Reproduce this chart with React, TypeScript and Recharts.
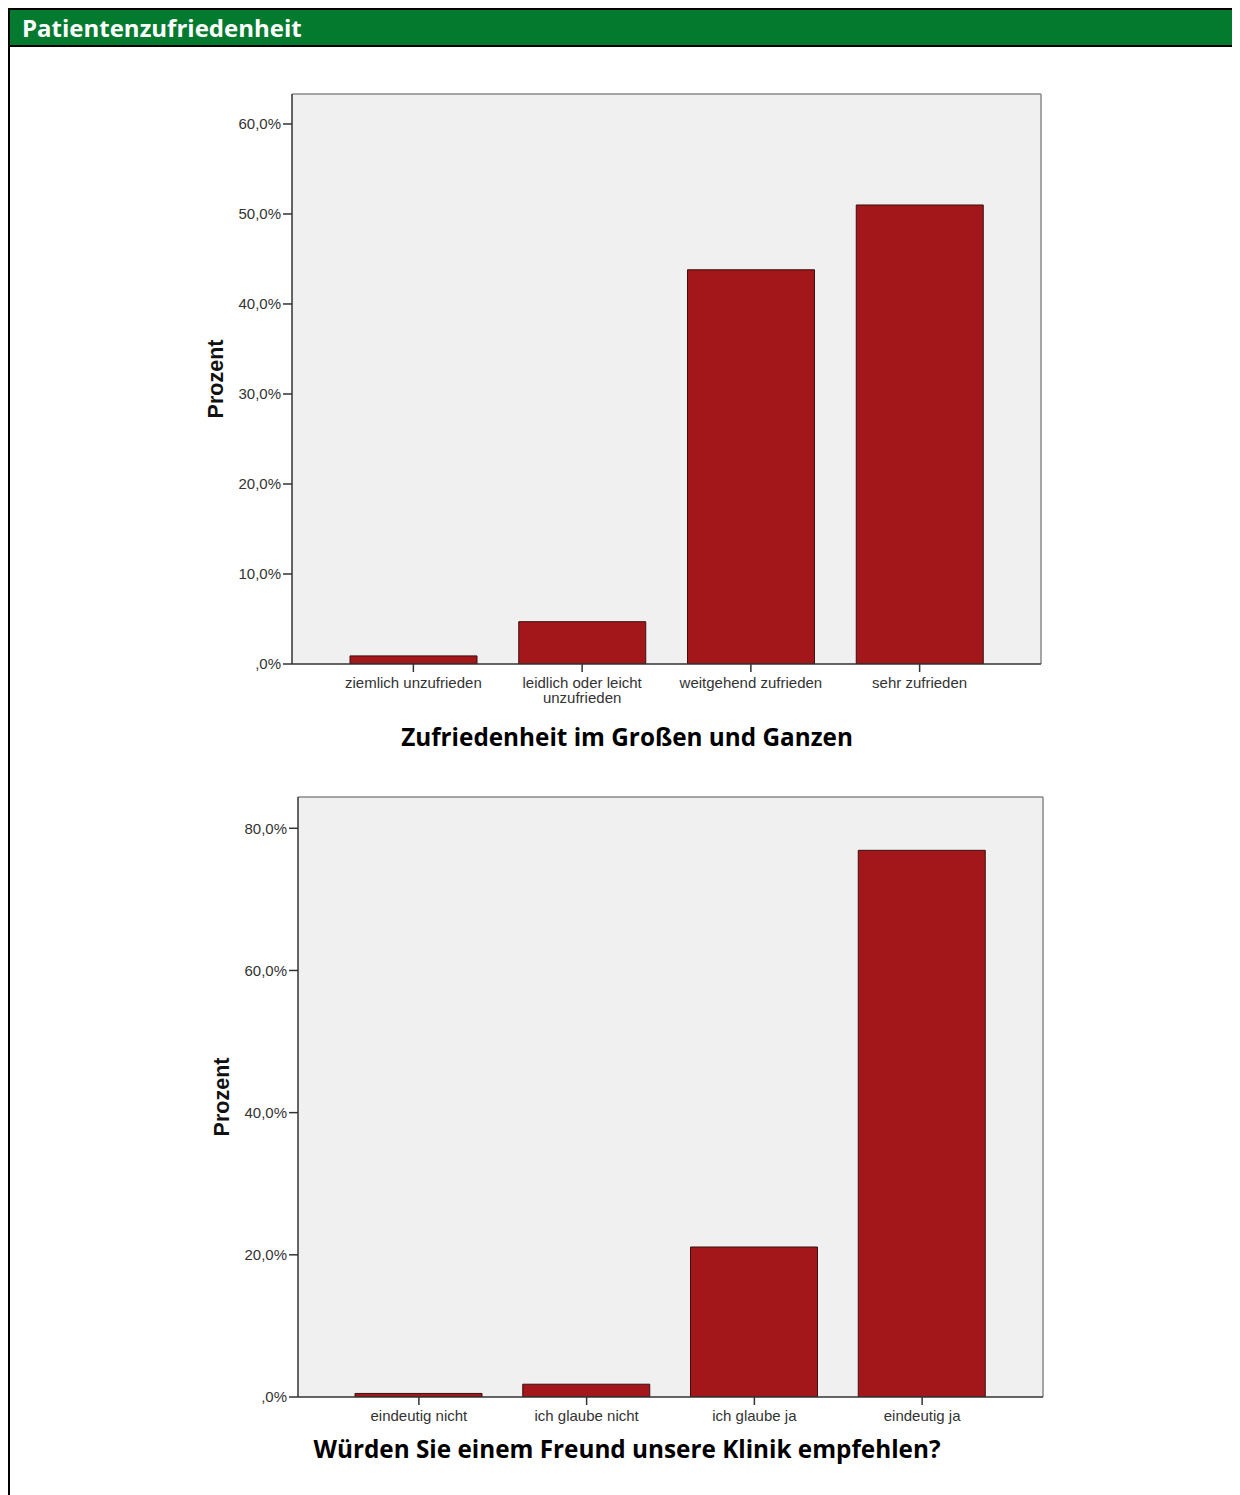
import React from 'react';
import { BarChart, Bar, XAxis, YAxis, CartesianGrid, Text } from 'recharts';

// Zufriedenheit im Großen und Ganzen (Prozent)
const satisfactionLabels = [
  'ziemlich unzufrieden',
  'leidlich oder leicht unzufrieden',
  'weitgehend zufrieden',
  'sehr zufrieden',
];
const satisfactionValues = [0.9, 4.7, 43.8, 51.0];
const satisfactionTicks = [0, 10, 20, 30, 40, 50, 60];

// Weiterempfehlung (Prozent)
const recommendLabels = ['eindeutig nicht', 'ich glaube nicht', 'ich glaube ja', 'eindeutig ja'];
const recommendValues = [0.5, 1.8, 21.1, 76.9];
const recommendTicks = [0, 20, 40, 60, 80];

const BAR_FILL = '#a3161a';
const BAR_STROKE = '#3a1010';
const AXIS = '#333';
const TICK_FONT = { fontSize: 15, fontFamily: '"Liberation Sans", Arial, sans-serif', fill: '#333' };
const TITLE_FONT = '"Open Sans", "Noto Sans", sans-serif';

const pct = (v: number) => (v === 0 ? ',0%' : `${v},0%`);

const CategoryTick = ({ x, y, payload }: any) => (
  <Text
    x={x}
    y={y}
    width={165}
    textAnchor="middle"
    verticalAnchor="start"
    lineHeight={15}
    style={TICK_FONT}
    {...TICK_FONT}
  >
    {payload.value}
  </Text>
);

// top and right edge of the plot frame
const topEdge = ({ offset }: any) => [offset.top];
const rightEdge = ({ offset }: any) => [offset.left + offset.width];

interface PanelProps {
  labels: string[];
  values: number[];
  ticks: number[];
  yMax: number;
  width: number;
  height: number;
}

const Panel: React.FC<PanelProps> = ({ labels, values, ticks, yMax, width, height }) => {
  const data = labels.map((name, i) => ({ name, value: values[i] }));
  return (
    <BarChart
      width={width}
      height={height}
      data={data}
      margin={{ top: 14, right: 19, left: 0, bottom: 0 }}
      style={{ fontFamily: '"Liberation Sans", Arial, sans-serif' }}
    >
      <CartesianGrid
        fill="#f0f0f0"
        stroke="#8a8a8a"
        strokeWidth={1.5}
        horizontalCoordinatesGenerator={topEdge}
        verticalCoordinatesGenerator={rightEdge}
      />
      <XAxis
        dataKey="name"
        interval={0}
        height={50}
        padding={{ left: 37, right: 37 }}
        tickSize={8}
        tickMargin={5}
        axisLine={{ stroke: AXIS, strokeWidth: 1.5 }}
        tickLine={{ stroke: AXIS, strokeWidth: 1.5 }}
        tick={<CategoryTick />}
      />
      <YAxis
        width={92}
        domain={[0, yMax]}
        ticks={ticks}
        interval={0}
        tickFormatter={pct}
        tickSize={9}
        tickMargin={2}
        allowDataOverflow
        axisLine={{ stroke: AXIS, strokeWidth: 1.5 }}
        tickLine={{ stroke: AXIS, strokeWidth: 1.5 }}
        tick={TICK_FONT}
        label={{
          value: 'Prozent',
          angle: -90,
          position: 'insideLeft',
          offset: 15,
          fill: '#111',
          style: { textAnchor: 'middle', fontWeight: 'bold', fontSize: 21.5 },
        }}
      />
      <Bar
        dataKey="value"
        barSize={127}
        fill={BAR_FILL}
        stroke={BAR_STROKE}
        strokeWidth={1}
        isAnimationActive={false}
      />
    </BarChart>
  );
};

const titleStyle: React.CSSProperties = {
  position: 'absolute',
  left: 217,
  width: 800,
  textAlign: 'center',
  fontFamily: TITLE_FONT,
  fontWeight: 700,
  fontSize: 24.3,
  lineHeight: '30px',
  color: '#000',
};

export default function App() {
  return (
    <>
      <style>{'body{overflow:hidden;}'}</style>
      <div
        style={{
          position: 'relative',
          width: 1240,
          height: 1490,
          borderLeft: '2px solid #000',
          borderTop: '2px solid #000',
          boxSizing: 'border-box',
          background: '#fff',
        }}
      >
        <div
          style={{
            height: 35,
            background: '#047a2f',
            borderBottom: '2px solid #000',
            color: '#fff',
            fontFamily: TITLE_FONT,
            fontWeight: 700,
            fontSize: 24,
            lineHeight: '35px',
            paddingLeft: 12,
          }}
        >
          Patientenzufriedenheit
        </div>
        <div style={{ position: 'absolute', left: 190, top: 70 }}>
          <Panel
            labels={satisfactionLabels}
            values={satisfactionValues}
            ticks={satisfactionTicks}
            yMax={63.33}
            width={860}
            height={634}
          />
        </div>
        <div style={{ ...titleStyle, top: 712 }}>Zufriedenheit im Großen und Ganzen</div>
        <div style={{ position: 'absolute', left: 196, top: 773 }}>
          <Panel
            labels={recommendLabels}
            values={recommendValues}
            ticks={recommendTicks}
            yMax={84.4}
            width={856}
            height={664}
          />
        </div>
        <div style={{ ...titleStyle, top: 1424 }}>Würden Sie einem Freund unsere Klinik empfehlen?</div>
      </div>
    </>
  );
}
